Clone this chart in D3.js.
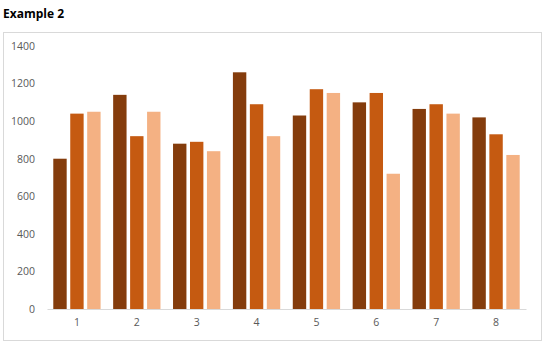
<!DOCTYPE html>
<html>
<head>
<meta charset="utf-8">
<script src="https://cdn.jsdelivr.net/npm/d3@7"></script>
<style>
  body { margin: 0; background: #fff; }
  text { font-family: "Open Sans", sans-serif; }
</style>
</head>
<body>
<script>
const width = 548;
const height = 355;

// Chart data
const categories = ["1", "2", "3", "4", "5", "6", "7", "8"];
const seriesNames = ["A", "B", "C"];
const seriesA = [800, 1140, 880, 1260, 1030, 1100, 1065, 1020];
const seriesB = [1040, 920, 890, 1090, 1170, 1150, 1090, 930];
const seriesC = [1050, 1050, 840, 920, 1150, 720, 1040, 820];
const yTicks = [0, 200, 400, 600, 800, 1000, 1200, 1400];
const colors = ["#843c0c", "#c55a11", "#f4b183"];

const seriesValues = [seriesA, seriesB, seriesC];

const svg = d3.select("body").append("svg")
    .attr("width", width)
    .attr("height", height);

// Title
svg.append("text")
    .attr("x", 3)
    .attr("y", 18)
    .attr("font-size", 12)
    .attr("font-weight", "bold")
    .attr("fill", "#000")
    .text("Example 2");

// Chart border
svg.append("rect")
    .attr("x", 3.5)
    .attr("y", 32.5)
    .attr("width", 538)
    .attr("height", 308)
    .attr("fill", "#fff")
    .attr("stroke", "#d9d9d9");

const x0 = d3.scaleBand()
    .domain(categories)
    .range([47, 526])
    .paddingInner(0.21)
    .paddingOuter(0.105);

const x1 = d3.scaleBand()
    .domain(seriesNames)
    .range([0, x0.bandwidth()])
    .paddingInner(0.21);

const y = d3.scaleLinear()
    .domain([0, 1400])
    .range([309, 46]);

// Y axis labels
const yAxis = svg.append("g")
    .attr("transform", "translate(35,0)")
    .call(d3.axisLeft(y).tickValues(yTicks).tickFormat(d3.format("d")).tickSize(0).tickPadding(0));
yAxis.select(".domain").remove();
yAxis.selectAll("text")
    .attr("font-family", "Open Sans, sans-serif")
    .attr("font-size", 10.5)
    .attr("fill", "#595959");

// Bars
const groups = svg.append("g")
    .selectAll("g")
    .data(categories)
    .join("g")
    .attr("transform", d => `translate(${x0(d)},0)`);

groups.selectAll("rect")
    .data((d, i) => seriesNames.map((s, j) => ({ s, v: seriesValues[j][i], j })))
    .join("rect")
    .attr("x", d => x1(d.s))
    .attr("y", d => y(d.v))
    .attr("width", x1.bandwidth())
    .attr("height", d => y(0) - y(d.v))
    .attr("fill", d => colors[d.j]);

// X axis
const xAxis = svg.append("g")
    .attr("transform", `translate(0,${y(0)})`)
    .call(d3.axisBottom(x0).tickSize(0).tickPadding(10));
xAxis.select(".domain")
    .attr("stroke", "#d9d9d9");
xAxis.selectAll("text")
    .attr("font-family", "Open Sans, sans-serif")
    .attr("font-size", 10.5)
    .attr("fill", "#595959");
</script>
</body>
</html>
